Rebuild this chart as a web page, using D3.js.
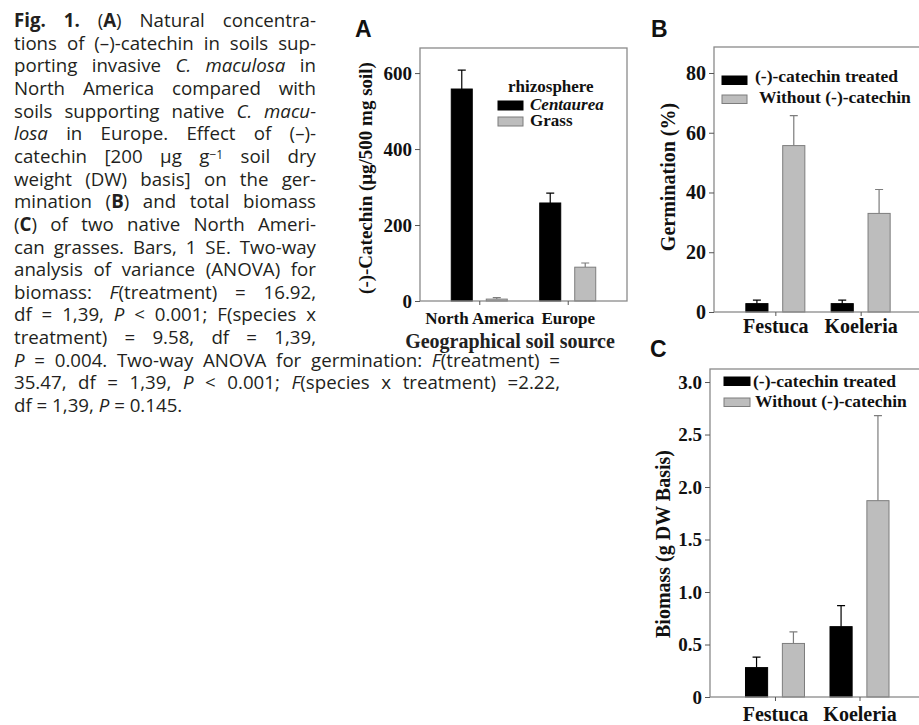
<!DOCTYPE html>
<html><head><meta charset="utf-8">
<script src="https://cdn.jsdelivr.net/npm/d3@7"></script>
<style>body{margin:0;background:#fff}svg{display:block;background:#fff}</style>
</head><body>
<svg id="fig" width="919" height="725"></svg>
<script>
// ---------- DATA ----------
// caption: each line is a list of [text, style] ("" normal, "b" bold, "i" italic, "sup" superscript)
const captionLines = [
  [["Fig. 1.","b"],[" (",""],["A","b"],[") Natural concentra-",""]],
  [["tions of (–)-catechin in soils sup-",""]],
  [["porting invasive ",""],["C. maculosa","i"],[" in",""]],
  [["North America compared with",""]],
  [["soils supporting native ",""],["C. macu-","i"]],
  [["losa","i"],[" in Europe. Effect of (–)-",""]],
  [["catechin [200 μg g",""],["−1","sup"],[" soil dry",""]],
  [["weight (DW) basis] on the ger-",""]],
  [["mination (",""],["B","b"],[") and total biomass",""]],
  [["(",""],["C","b"],[") of two native North Ameri-",""]],
  [["can grasses. Bars, 1 SE. Two-way",""]],
  [["analysis of variance (ANOVA) for",""]],
  [["biomass: ",""],["F","i"],["(treatment) = 16.92,",""]],
  [["df = 1,39, ",""],["P","i"],[" < 0.001; F(species x",""]],
  [["treatment) = 9.58, df = 1,39,",""]],
  [["P","i"],[" = 0.004. Two-way ANOVA for germination: ",""],["F","i"],["(treatment) =",""]],
  [["35.47, df = 1,39, ",""],["P","i"],[" < 0.001; ",""],["F","i"],["(species x treatment) =2.22,",""]],
  [["df = 1,39, ",""],["P","i"],[" = 0.145.",""]]
];
const captionJustify = ["narrow","narrow","narrow","narrow","narrow","narrow","narrow","narrow","narrow","narrow","narrow","narrow","narrow","narrow","narrow","wide","wide","none"];

// Panel A
const catechinGroups = ["North America", "Europe"];
const rhizosphereSeries = ["Centaurea", "Grass"];
const catechinCentaurea = [558, 258];
const catechinCentaureaSE = [50, 26];
const catechinGrass = [5, 89];
const catechinGrassSE = [4, 11];
const catechinTicks = [0, 200, 400, 600];

// Panel B
const speciesGroups = ["Festuca", "Koeleria"];
const treatmentSeries = ["(-)-catechin treated", "Without (-)-catechin"];
const germTreated = [2.8, 2.8];
const germTreatedSE = [1.2, 1.2];
const germWithout = [55.7, 33];
const germWithoutSE = [10, 8];
const germTicks = [0, 20, 40, 60, 80];

// Panel C
const biomassTreated = [0.28, 0.67];
const biomassTreatedSE = [0.10, 0.20];
const biomassWithout = [0.51, 1.87];
const biomassWithoutSE = [0.11, 0.81];
const biomassTicks = [0, 0.5, 1.0, 1.5, 2.0, 2.5, 3.0];

// ---------- DRAW ----------
const svg = d3.select("#fig");
const SERIF = "'Liberation Serif','Times New Roman',Times,serif";
const SANS = "'Open Sans','Noto Sans',sans-serif";
const LABELSANS = "'Liberation Sans',Arial,sans-serif";
const GRAYFILL = "#bdbdbd", GRAYSTROKE = "#7d7d7d", FRAME = "#8a8a8a";

// caption
const capLeft = 14, capNarrowRight = 316, capWideRight = 560, capTop = 27, capStep = 22.65;
captionLines.forEach((segs, i) => {
  const t = svg.append("text")
    .attr("x", capLeft).attr("y", capTop + i * capStep)
    .attr("font-family", SANS).attr("font-size", 18.7).attr("fill", "#231f20")
    .attr("xml:space", "preserve").style("white-space", "pre");
  segs.forEach(([txt, st]) => {
    const ts = t.append("tspan").text(txt);
    if (st === "b") ts.attr("font-weight", "bold");
    if (st === "i") ts.attr("font-style", "italic");
    if (st === "sup") { ts.attr("font-size", 12).attr("baseline-shift", "35%"); }
  });
  const mode = captionJustify[i];
  if (mode !== "none") {
    const target = (mode === "wide" ? capWideRight : capNarrowRight) - capLeft;
    const full = segs.map(s => s[0]).join("");
    const nSpaces = (full.match(/ /g) || []).length;
    const w = t.node().getComputedTextLength();
    if (nSpaces > 0) t.attr("word-spacing", (target - w) / nSpaces);
  }
});

function panel(p) {
  const g = svg.append("g");
  const x0 = d3.scalePoint().domain(p.groups).range([p.left, p.right]).padding(p.xPad);
  const x1 = d3.scaleBand().domain(p.series).range([-p.half, p.half]).paddingInner(0.4);
  const y = d3.scaleLinear().domain([0, p.yMax]).range([p.bottom, p.top]);

  // bars + error bars
  p.series.forEach((s, si) => {
    const data = p.groups.map((gn, i) => ({ g: gn, v: p.values[si][i], e: p.se[si][i] }));
    const cx = d => x0(d.g) + x1(s) + x1.bandwidth() / 2;
    g.append("g").selectAll("path").data(data).join("path")
      .attr("d", d => `M${cx(d)},${y(d.v)}V${y(d.v + d.e)}M${cx(d) - 4},${y(d.v + d.e)}H${cx(d) + 4}`)
      .attr("stroke", p.strokes[si]).attr("stroke-width", 1.2).attr("fill", "none");
    g.append("g").selectAll("rect").data(data).join("rect")
      .attr("x", d => x0(d.g) + x1(s)).attr("width", x1.bandwidth())
      .attr("y", d => y(d.v)).attr("height", d => y(0) - y(d.v))
      .attr("fill", p.fills[si]).attr("stroke", p.strokes[si]).attr("stroke-width", 1);
  });

  // frame
  g.append("rect").attr("x", p.left).attr("y", p.top)
    .attr("width", p.right - p.left).attr("height", p.bottom - p.top)
    .attr("fill", "none").attr("stroke", FRAME).attr("stroke-width", 1.3);

  // y axis
  const ya = g.append("g").attr("transform", `translate(${p.left},0)`)
    .call(d3.axisLeft(y).tickValues(p.ticks).tickFormat(p.fmt).tickSize(5).tickPadding(3).tickSizeOuter(0));
  ya.select(".domain").remove();
  ya.selectAll("line").attr("stroke", "#555");
  ya.selectAll("text").attr("font-family", SERIF).attr("font-weight", "bold")
    .attr("font-size", p.tickFont).attr("fill", "#111");

  // x axis
  const xa = g.append("g").attr("transform", `translate(0,${p.bottom})`)
    .call(d3.axisBottom(x0).tickSize(4).tickPadding(p.xLabelPad).tickSizeOuter(0));
  xa.select(".domain").remove();
  xa.selectAll("line").attr("stroke", "#555");
  xa.selectAll("text").attr("font-family", SERIF).attr("font-weight", "bold")
    .attr("font-size", p.xFont).attr("fill", "#111");

  // y label
  g.append("text")
    .attr("transform", `translate(${p.yLabelX},${p.yLabelY}) rotate(-90)`)
    .attr("text-anchor", "middle").attr("dy", "0.35em")
    .attr("font-family", SERIF).attr("font-weight", "bold").attr("font-size", p.yLabelFont)
    .attr("fill", "#111").text(p.yLabel);

  // panel letter
  g.append("text").attr("x", p.letterX).attr("y", p.letterY)
    .attr("font-family", LABELSANS).attr("font-weight", "bold").attr("font-size", 23)
    .attr("fill", "#111").text(p.letter);

  return { g, x0, y };
}

// Panel A
const A = panel({
  letter: "A", letterX: 355, letterY: 37,
  left: 420, right: 627, top: 48, bottom: 301, yMax: 666, xPad: 0.67, half: 28,
  groups: catechinGroups, series: rhizosphereSeries,
  values: [catechinCentaurea, catechinGrass], se: [catechinCentaureaSE, catechinGrassSE],
  fills: ["#000", GRAYFILL], strokes: ["#000", GRAYSTROKE],
  ticks: catechinTicks, fmt: d3.format("d"), tickFont: 19,
  xFont: 17, xLabelPad: 7,
  yLabel: "(-)-Catechin (μg/500 mg soil)", yLabelX: 365, yLabelY: 178, yLabelFont: 19
});
A.g.append("text").attr("x", 510).attr("y", 348).attr("text-anchor", "middle")
  .attr("font-family", SERIF).attr("font-weight", "bold").attr("font-size", 20).attr("fill", "#222")
  .text("Geographical soil source");
// legend A
A.g.append("text").attr("x", 508).attr("y", 92).attr("font-family", SERIF).attr("font-weight", "bold")
  .attr("font-size", 17).attr("fill", "#111").text("rhizosphere");
rhizosphereSeries.forEach((s, i) => {
  A.g.append("rect").attr("x", 498).attr("y", 101 + i * 16).attr("width", 25).attr("height", 9)
    .attr("fill", i ? GRAYFILL : "#000").attr("stroke", i ? GRAYSTROKE : "#000");
  A.g.append("text").attr("x", 530).attr("y", 110 + i * 16).attr("font-family", SERIF)
    .attr("font-weight", "bold").attr("font-style", i ? "normal" : "italic")
    .attr("font-size", 17).attr("fill", "#111").text(s);
});

// Panel B
const B = panel({
  letter: "B", letterX: 651, letterY: 37,
  left: 714, right: 922, top: 47, bottom: 312, yMax: 88.7, xPad: 0.719, half: 29.5,
  groups: speciesGroups, series: treatmentSeries,
  values: [germTreated, germWithout], se: [germTreatedSE, germWithoutSE],
  fills: ["#000", GRAYFILL], strokes: ["#000", GRAYSTROKE],
  ticks: germTicks, fmt: d3.format("d"), tickFont: 20,
  xFont: 20, xLabelPad: 3,
  yLabel: "Germination (%)", yLabelX: 668, yLabelY: 177, yLabelFont: 20
});
treatmentSeries.forEach((s, i) => {
  B.g.append("rect").attr("x", 722).attr("y", 76 + i * 19).attr("width", 25).attr("height", 8.5)
    .attr("fill", i ? GRAYFILL : "#000").attr("stroke", i ? GRAYSTROKE : "#000");
  B.g.append("text").attr("x", i ? 759 : 755).attr("y", 82 + i * 21).attr("font-family", SERIF)
    .attr("font-weight", "bold").attr("font-size", 17.5).attr("fill", "#111").text(s);
});

// Panel C
const C = panel({
  letter: "C", letterX: 650, letterY: 357,
  left: 710, right: 924.5, top: 369, bottom: 697, yMax: 3.124, xPad: 0.769, half: 29.5,
  groups: speciesGroups, series: treatmentSeries,
  values: [biomassTreated, biomassWithout], se: [biomassTreatedSE, biomassWithoutSE],
  fills: ["#000", GRAYFILL], strokes: ["#000", GRAYSTROKE],
  ticks: biomassTicks, fmt: d => d === 0 ? "0" : d3.format(".1f")(d), tickFont: 19,
  xFont: 20, xLabelPad: 6,
  yLabel: "Biomass (g DW Basis)", yLabelX: 663, yLabelY: 544, yLabelFont: 20
});
treatmentSeries.forEach((s, i) => {
  C.g.append("rect").attr("x", 724).attr("y", 377 + i * 21).attr("width", 26).attr("height", 8.5)
    .attr("fill", i ? GRAYFILL : "#000").attr("stroke", i ? GRAYSTROKE : "#000");
  C.g.append("text").attr("x", i ? 755 : 753).attr("y", 387 + i * 20).attr("font-family", SERIF)
    .attr("font-weight", "bold").attr("font-size", 17.5).attr("fill", "#111").text(s);
});
</script>
</body></html>
